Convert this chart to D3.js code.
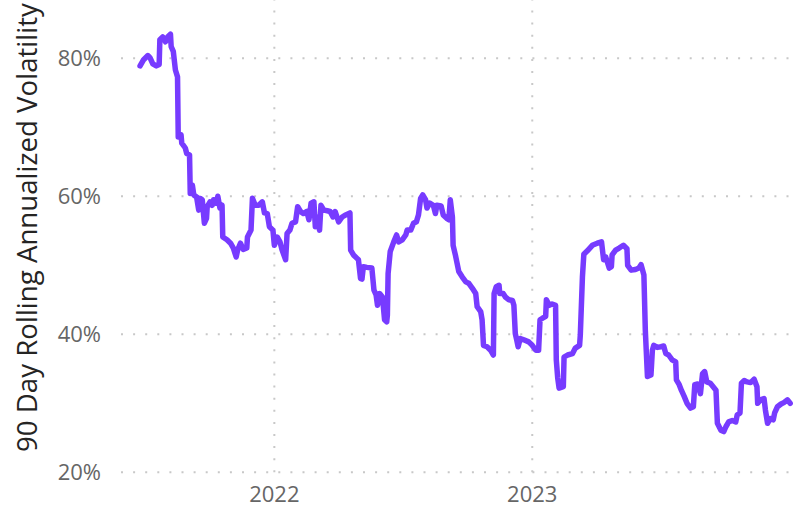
<!DOCTYPE html>
<html>
<head>
<meta charset="utf-8">
<script src="https://cdn.jsdelivr.net/npm/d3@7"></script>
<style>
  html, body { margin: 0; padding: 0; background: #fff; }
  svg { display: block; }
</style>
</head>
<body>
<svg id="chart" width="803" height="511"></svg>
<script>
// ---------- data ----------
const dates = [
  "2021-06-25","2021-06-30","2021-07-06","2021-07-09","2021-07-13","2021-07-18","2021-07-22","2021-07-23",
  "2021-07-27","2021-07-31","2021-08-03","2021-08-07","2021-08-08","2021-08-11","2021-08-14","2021-08-17",
  "2021-08-18","2021-08-22","2021-08-23","2021-08-28","2021-08-30","2021-09-03","2021-09-04","2021-09-07",
  "2021-09-09","2021-09-13","2021-09-16","2021-09-18","2021-09-21","2021-09-24","2021-09-27","2021-09-28",
  "2021-10-02","2021-10-05","2021-10-07","2021-10-11","2021-10-13","2021-10-16","2021-10-19","2021-10-20",
  "2021-10-26","2021-10-31","2021-11-04","2021-11-08","2021-11-10","2021-11-14","2021-11-18","2021-11-23",
  "2021-11-24","2021-11-29","2021-12-01","2021-12-05","2021-12-10","2021-12-15","2021-12-18","2021-12-22",
  "2021-12-25","2021-12-30","2022-01-01","2022-01-05","2022-01-09","2022-01-12","2022-01-17","2022-01-19",
  "2022-01-23","2022-01-26","2022-01-31","2022-02-03","2022-02-07","2022-02-11","2022-02-16","2022-02-19",
  "2022-02-22","2022-02-26","2022-02-28","2022-03-02","2022-03-06","2022-03-08","2022-03-12","2022-03-17",
  "2022-03-21","2022-03-25","2022-03-28","2022-04-02","2022-04-07","2022-04-12","2022-04-18","2022-04-19",
  "2022-04-23","2022-04-28","2022-04-30","2022-05-03","2022-05-05","2022-05-07","2022-05-12","2022-05-19",
  "2022-05-22","2022-05-25","2022-05-27","2022-05-30","2022-06-03","2022-06-06","2022-06-09","2022-06-10",
  "2022-06-11","2022-06-14","2022-06-19","2022-06-23","2022-06-26","2022-07-01","2022-07-06","2022-07-08",
  "2022-07-13","2022-07-17","2022-07-21","2022-07-24","2022-07-27","2022-07-30","2022-08-03","2022-08-05",
  "2022-08-09","2022-08-14","2022-08-17","2022-08-19","2022-08-25","2022-08-28","2022-09-02","2022-09-05",
  "2022-09-07","2022-09-10","2022-09-11","2022-09-14","2022-09-19","2022-09-24","2022-09-29","2022-10-03",
  "2022-10-08","2022-10-13","2022-10-15","2022-10-20","2022-10-22","2022-10-24","2022-10-29","2022-11-03",
  "2022-11-07","2022-11-08","2022-11-11","2022-11-15","2022-11-16","2022-11-21","2022-11-24","2022-11-29",
  "2022-12-04","2022-12-06","2022-12-08","2022-12-10","2022-12-12","2022-12-15","2022-12-20","2022-12-27",
  "2023-01-01","2023-01-06","2023-01-10","2023-01-12","2023-01-15","2023-01-20","2023-01-21","2023-01-25",
  "2023-01-29","2023-02-03","2023-02-04","2023-02-06","2023-02-08","2023-02-14","2023-02-15","2023-02-20",
  "2023-02-27","2023-03-03","2023-03-09","2023-03-10","2023-03-13","2023-03-15","2023-03-20","2023-03-27",
  "2023-04-03","2023-04-09","2023-04-12","2023-04-15","2023-04-20","2023-04-23","2023-04-24","2023-04-29",
  "2023-05-04","2023-05-10","2023-05-15","2023-05-16","2023-05-21","2023-05-27","2023-06-01","2023-06-04",
  "2023-06-08","2023-06-10","2023-06-13","2023-06-18","2023-06-20","2023-06-22","2023-06-27","2023-07-02",
  "2023-07-06","2023-07-09","2023-07-13","2023-07-18","2023-07-23","2023-07-24","2023-07-28","2023-07-31",
  "2023-08-04","2023-08-08","2023-08-13","2023-08-17","2023-08-19","2023-08-23","2023-08-27","2023-08-30",
  "2023-09-02","2023-09-05","2023-09-10","2023-09-14","2023-09-18","2023-09-20","2023-09-25","2023-09-29",
  "2023-10-02","2023-10-06","2023-10-11","2023-10-16","2023-10-18","2023-10-22","2023-10-24","2023-10-28",
  "2023-11-01","2023-11-06","2023-11-11","2023-11-15","2023-11-16","2023-11-20","2023-11-25","2023-11-27",
  "2023-11-30","2023-12-04","2023-12-08","2023-12-10","2023-12-14","2023-12-19","2023-12-23","2023-12-28",
  "2024-01-01"
];
const volatility = [
  78.9,79.8,80.4,80.1,79.2,78.9,79.1,82.7,
  83.1,82.4,83.1,83.5,81.7,81.0,78.3,77.3,
  68.6,68.9,67.7,67.0,66.2,66.0,60.4,61.6,
  60.2,59.9,58.0,59.7,59.5,56.1,56.8,58.5,
  59.2,58.7,59.5,59.0,60.0,58.3,58.7,54.1,
  53.7,53.2,52.5,51.2,52.2,53.2,52.3,52.5,
  54.1,55.1,59.7,58.7,58.7,59.2,57.6,57.5,
  55.6,55.1,52.9,54.1,53.4,52.2,50.8,54.6,
  55.1,56.1,56.3,58.5,57.8,57.5,57.8,56.6,
  59.0,59.2,55.6,57.0,55.1,58.7,58.0,57.9,
  57.8,57.0,57.8,56.3,57.0,57.3,57.6,52.2,
  51.5,51.0,50.8,48.1,48.0,49.8,49.7,49.6,
  46.4,45.7,44.2,45.9,45.4,42.1,41.8,42.8,
  48.8,52.0,53.4,54.4,53.4,53.7,54.4,55.1,
  55.1,56.1,56.3,57.3,59.7,60.2,59.5,58.3,
  59.0,58.7,57.5,58.7,58.6,57.3,56.8,56.6,
  59.5,57.0,52.9,51.6,49.1,48.3,47.6,47.4,
  46.7,45.9,44.0,43.3,42.1,38.4,38.2,37.7,
  37.0,45.9,46.9,47.1,45.9,45.9,45.4,45.0,
  44.9,44.2,40.1,39.2,38.2,39.4,39.2,38.9,
  38.4,37.7,37.7,42.1,42.3,42.6,45.0,44.2,
  44.4,44.2,36.3,33.7,32.2,32.4,36.7,37.0,
  37.2,38.0,38.4,39.9,48.3,51.6,52.1,52.9,
  53.2,53.4,50.8,51.2,49.6,49.8,51.5,52.2,
  52.5,52.9,52.4,50.0,49.3,49.4,49.6,50.1,
  48.6,40.6,33.9,34.1,37.7,38.4,38.1,38.2,
  38.3,37.2,37.0,36.3,36.0,33.4,32.7,31.9,
  31.0,30.0,29.3,29.5,32.7,32.8,31.4,34.3,
  34.6,33.1,32.9,32.4,31.9,27.1,26.1,25.9,
  26.6,27.3,27.5,27.3,28.3,28.6,32.9,33.3,
  33.1,33.0,33.5,32.4,30.0,30.5,30.7,29.0,
  27.1,27.8,27.6,28.6,29.5,29.9,30.1,30.5,
  30.0
];
const yTicks = [20, 40, 60, 80];
const xTicks = ["2022-01-01", "2023-01-01"];
const xDomain = ["2021-05-29", "2024-01-05"];
const yTitle = "90 Day Rolling Annualized Volatility";

// ---------- drawing ----------
const parse = d3.utcParse("%Y-%m-%d");
const data = dates.map((d, i) => ({ date: parse(d), value: volatility[i] }));

const svg = d3.select("#chart");
const plot = { left: 121, right: 793, top: 0, bottom: 472.3 };

const x = d3.scaleUtc()
  .domain(xDomain.map(parse))
  .range([plot.left, plot.right]);
const y = d3.scaleLinear()
  .domain([20, 80])
  .range([472.3, 58.3]);

const gridColor = "#c8c8c8";

// horizontal gridlines
svg.append("g")
  .selectAll("line")
  .data(yTicks)
  .join("line")
  .attr("x1", plot.left).attr("x2", plot.right)
  .attr("y1", d => y(d)).attr("y2", d => y(d))
  .attr("stroke", gridColor)
  .attr("stroke-width", 2)
  .attr("stroke-dasharray", "2,10.1");

// vertical gridlines
svg.append("g")
  .selectAll("line")
  .data(xTicks.map(parse))
  .join("line")
  .attr("x1", d => x(d)).attr("x2", d => x(d))
  .attr("y1", plot.bottom).attr("y2", plot.top)
  .attr("stroke", gridColor)
  .attr("stroke-width", 2)
  .attr("stroke-dasharray", "2,10.1");

// y tick labels
svg.append("g")
  .selectAll("text")
  .data(yTicks)
  .join("text")
  .attr("x", 101)
  .attr("y", d => y(d))
  .attr("dy", "0.36em")
  .attr("text-anchor", "end")
  .attr("font-family", "'Segoe UI', 'Open Sans', sans-serif")
  .attr("font-size", 22)
  .attr("fill", "#666666")
  .text(d => d + "%");

// x tick labels
svg.append("g")
  .selectAll("text")
  .data(xTicks.map(parse))
  .join("text")
  .attr("x", d => x(d))
  .attr("y", 502)
  .attr("text-anchor", "middle")
  .attr("font-family", "'Segoe UI', 'Open Sans', sans-serif")
  .attr("font-size", 22)
  .attr("fill", "#666666")
  .text(d => d3.utcFormat("%Y")(d));

// y axis title (sized to span the reference's length)
const title = svg.append("text")
  .attr("transform", "translate(37,227.5) rotate(-90)")
  .attr("text-anchor", "middle")
  .attr("font-family", "'Open Sans', sans-serif")
  .attr("font-size", 25)
  .attr("fill", "#252423")
  .text(yTitle);
const tl = title.node().getComputedTextLength();
if (tl > 0) title.attr("font-size", 25 * 449 / tl);

// line
const line = d3.line()
  .x(d => x(d.date))
  .y(d => y(d.value))
  .curve(d3.curveLinear);

svg.append("path")
  .datum(data)
  .attr("fill", "none")
  .attr("stroke", "#773BFF")
  .attr("stroke-width", 5.5)
  .attr("stroke-linejoin", "round")
  .attr("stroke-linecap", "round")
  .attr("d", line);
</script>
</body>
</html>
